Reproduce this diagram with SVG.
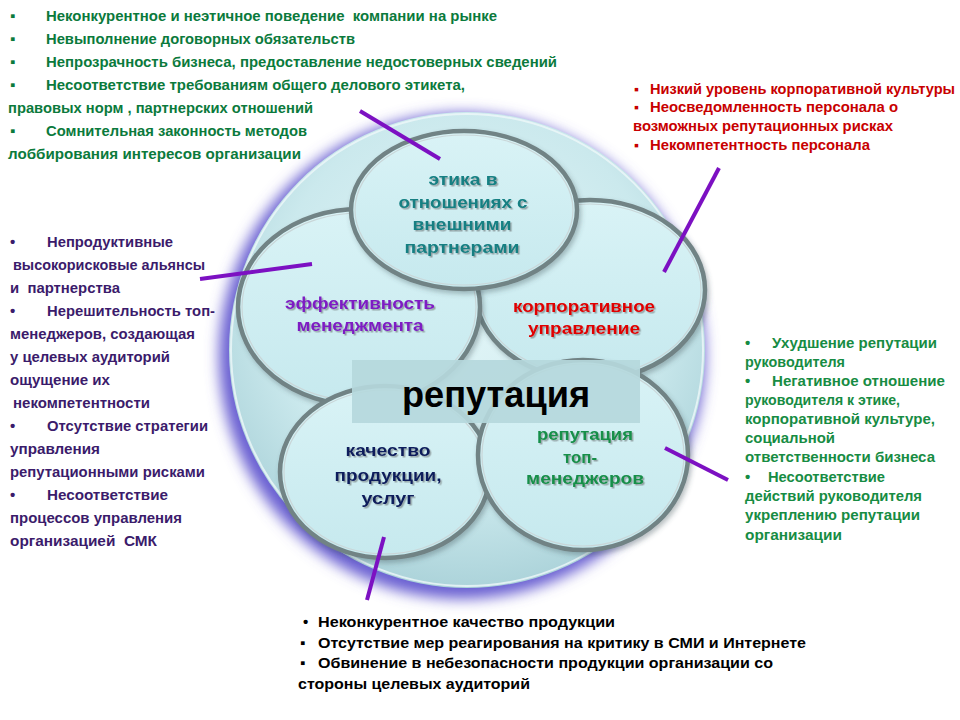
<svg xmlns="http://www.w3.org/2000/svg" width="960" height="720" viewBox="0 0 960 720">
<defs>
  <radialGradient id="bigFill" cx="0.5" cy="0.4" r="0.62">
    <stop offset="0" stop-color="#e3f6f8"/>
    <stop offset="0.65" stop-color="#cbe9ed"/>
    <stop offset="1" stop-color="#a9d1d8"/>
  </radialGradient>
  <linearGradient id="ellFill" x1="0" y1="0" x2="0" y2="1">
    <stop offset="0" stop-color="#d9f3f6"/>
    <stop offset="1" stop-color="#c6e9ee"/>
  </linearGradient>
  <filter id="halo" x="-20%" y="-20%" width="140%" height="140%">
    <feGaussianBlur stdDeviation="7"/>
  </filter>
  <filter id="shadow" x="-10%" y="-10%" width="125%" height="130%">
    <feDropShadow dx="2" dy="3" stdDeviation="2.5" flood-color="#3a5055" flood-opacity="0.35"/>
  </filter>
  <filter id="txtShadow" x="-5%" y="-20%" width="110%" height="150%">
    <feDropShadow dx="1.5" dy="1.5" stdDeviation="0.7" flood-color="#4a4a4a" flood-opacity="0.45"/>
  </filter>
  <style>
    .t { font-family: "Liberation Sans", Arial, sans-serif; font-weight: bold; font-size: 15px; }
    .g1 { fill: #0b7a3c; }
    .g2 { fill: #178c43; }
    .rd { fill: #c80000; font-size: 14px; }
    .pu { fill: #3b1b6b; }
    .bk { fill: #000000; }
    .lbl { font-family: "Liberation Sans", Arial, sans-serif; font-weight: bold; font-size: 17px; text-anchor: middle; filter: url(#txtShadow); }
    .ell { fill: url(#ellFill); stroke: #718385; stroke-width: 4.5; filter: url(#shadow); }
    .ellIn { fill: none; stroke: #c9d6d8; stroke-width: 1.2; }
    .con { stroke: #7c10c2; stroke-width: 4; stroke-linecap: butt; fill: none; }
    .pre { white-space: pre; }
  </style>
</defs>

<rect width="960" height="720" fill="#ffffff"/>

<!-- outer reputation circle -->
<g id="outer-circle">
  <circle cx="462" cy="356" r="243" fill="#6a60d2" filter="url(#halo)"/>
  <circle cx="467" cy="350" r="238" fill="url(#bigFill)"/>
  <circle cx="467" cy="350" r="236" fill="none" stroke="#eef8f9" stroke-width="2" opacity="0.8"/>
</g>

<g id="node-corp">
  <ellipse class="ell" cx="590" cy="290" rx="115" ry="90"/>
  <ellipse class="ellIn" cx="590" cy="290" rx="111" ry="86"/>
  <text class="lbl" fill="#e00000"><tspan x="584" y="312" textLength="142" lengthAdjust="spacingAndGlyphs">корпоративное</tspan><tspan x="584" y="334" textLength="112" lengthAdjust="spacingAndGlyphs">управление</tspan></text>
</g>

<g id="node-mgmt">
  <ellipse class="ell" cx="359" cy="307" rx="121" ry="98"/>
  <ellipse class="ellIn" cx="359" cy="307" rx="117" ry="94"/>
  <text class="lbl" fill="#7e1dc3"><tspan x="360" y="309" textLength="150" lengthAdjust="spacingAndGlyphs">эффективность</tspan><tspan x="360" y="331" textLength="127" lengthAdjust="spacingAndGlyphs">менеджмента</tspan></text>
</g>

<g id="node-ethics">
  <ellipse class="ell" cx="464" cy="210" rx="113" ry="79"/>
  <ellipse class="ellIn" cx="464" cy="210" rx="109" ry="75"/>
  <text class="lbl" fill="#137f82"><tspan x="463" y="185" textLength="69" lengthAdjust="spacingAndGlyphs">этика в</tspan><tspan x="463" y="208" textLength="129" lengthAdjust="spacingAndGlyphs">отношениях с</tspan><tspan x="462" y="230" textLength="99" lengthAdjust="spacingAndGlyphs">внешними</tspan><tspan x="462" y="253" textLength="115" lengthAdjust="spacingAndGlyphs">партнерами</tspan></text>
</g>

<g id="node-quality">
  <ellipse class="ell" cx="385" cy="472" rx="105" ry="86"/>
  <ellipse class="ellIn" cx="385" cy="472" rx="101" ry="82"/>
  <text class="lbl" fill="#0c1f5c"><tspan x="388" y="456" textLength="85" lengthAdjust="spacingAndGlyphs">качество</tspan><tspan x="388" y="481" textLength="107" lengthAdjust="spacingAndGlyphs">продукции,</tspan><tspan x="388" y="504" textLength="53" lengthAdjust="spacingAndGlyphs">услуг</tspan></text>
</g>

<g id="node-topmgr">
  <ellipse class="ell" cx="583" cy="455" rx="105" ry="95"/>
  <ellipse class="ellIn" cx="583" cy="455" rx="101" ry="91"/>
  <text class="lbl" fill="#178f4a"><tspan x="585" y="440" textLength="96" lengthAdjust="spacingAndGlyphs">репутация</tspan><tspan x="580" y="463" textLength="34" lengthAdjust="spacingAndGlyphs">топ-</tspan><tspan x="585" y="484" textLength="118" lengthAdjust="spacingAndGlyphs">менеджеров</tspan></text>
</g>

<g id="node-reputation">
  <rect x="352" y="360" width="288" height="63" fill="#b5d8dc" opacity="0.92"/>
  <text x="496" y="407" font-family="Liberation Sans, Arial, sans-serif" font-weight="bold" font-size="36" text-anchor="middle" fill="#000000" textLength="188" lengthAdjust="spacingAndGlyphs">репутация</text>
</g>

<g id="connectors">
  <line class="con" x1="360" y1="111" x2="440" y2="159"/>
  <line class="con" x1="200" y1="279" x2="312" y2="264"/>
  <line class="con" x1="719" y1="168" x2="664" y2="272"/>
  <line class="con" x1="665" y1="448" x2="728" y2="480"/>
  <line class="con" x1="384" y1="537" x2="367" y2="600"/>
</g>

<g id="text-ethics-risks" class="t g1">
  <text x="10" y="21">▪</text>
  <text x="46" y="21" class="pre" textLength="451" lengthAdjust="spacingAndGlyphs">Неконкурентное и неэтичное поведение  компании на рынке</text>
  <text x="10" y="44">▪</text>
  <text x="46" y="44" textLength="309" lengthAdjust="spacingAndGlyphs">Невыполнение договорных обязательств</text>
  <text x="10" y="67">▪</text>
  <text x="46" y="67" textLength="511" lengthAdjust="spacingAndGlyphs">Непрозрачность бизнеса, предоставление недостоверных сведений</text>
  <text x="10" y="90">▪</text>
  <text x="46" y="90" textLength="419" lengthAdjust="spacingAndGlyphs">Несоответствие требованиям общего делового этикета,</text>
  <text x="8" y="113" textLength="305" lengthAdjust="spacingAndGlyphs">правовых норм , партнерских отношений</text>
  <text x="10" y="136">▪</text>
  <text x="46" y="136" textLength="261" lengthAdjust="spacingAndGlyphs">Сомнительная законность методов</text>
  <text x="8" y="159" textLength="293" lengthAdjust="spacingAndGlyphs">лоббирования интересов организации</text>
</g>

<g id="text-corp-risks" class="t rd">
  <text x="634" y="94">▪</text>
  <text x="650" y="94" textLength="305" lengthAdjust="spacingAndGlyphs">Низкий уровень корпоративной культуры</text>
  <text x="634" y="112">▪</text>
  <text x="650" y="112" textLength="248" lengthAdjust="spacingAndGlyphs">Неосведомленность персонала о</text>
  <text x="633" y="131" textLength="260" lengthAdjust="spacingAndGlyphs">возможных репутационных рисках</text>
  <text x="634" y="150">▪</text>
  <text x="650" y="150" textLength="220" lengthAdjust="spacingAndGlyphs">Некомпетентность персонала</text>
</g>

<g id="text-mgmt-risks" class="t pu">
  <text x="10" y="247">•</text>
  <text x="47" y="247" textLength="126" lengthAdjust="spacingAndGlyphs">Непродуктивные</text>
  <text x="13" y="270" textLength="192" lengthAdjust="spacingAndGlyphs">высокорисковые альянсы</text>
  <text x="10" y="293" class="pre" textLength="110" lengthAdjust="spacingAndGlyphs">и  партнерства</text>
  <text x="10" y="316">•</text>
  <text x="47" y="316" textLength="168" lengthAdjust="spacingAndGlyphs">Нерешительность топ-</text>
  <text x="10" y="339" textLength="185" lengthAdjust="spacingAndGlyphs">менеджеров, создающая</text>
  <text x="10" y="362" textLength="160" lengthAdjust="spacingAndGlyphs">у целевых аудиторий</text>
  <text x="10" y="385" textLength="100" lengthAdjust="spacingAndGlyphs">ощущение их</text>
  <text x="13" y="408" textLength="137" lengthAdjust="spacingAndGlyphs">некомпетентности</text>
  <text x="10" y="431">•</text>
  <text x="47" y="431" textLength="161" lengthAdjust="spacingAndGlyphs">Отсутствие стратегии</text>
  <text x="10" y="454" textLength="90" lengthAdjust="spacingAndGlyphs">управления</text>
  <text x="10" y="477" textLength="195" lengthAdjust="spacingAndGlyphs">репутационными рисками</text>
  <text x="10" y="500">•</text>
  <text x="47" y="500" textLength="121" lengthAdjust="spacingAndGlyphs">Несоответствие</text>
  <text x="10" y="523" textLength="172" lengthAdjust="spacingAndGlyphs">процессов управления</text>
  <text x="10" y="546" class="pre" textLength="147" lengthAdjust="spacingAndGlyphs">организацией  СМК</text>
</g>

<g id="text-topmgr-risks" class="t g2">
  <text x="745" y="348">•</text>
  <text x="772" y="348" textLength="165" lengthAdjust="spacingAndGlyphs">Ухудшение репутации</text>
  <text x="745" y="367" textLength="100" lengthAdjust="spacingAndGlyphs">руководителя</text>
  <text x="745" y="386">•</text>
  <text x="772" y="386" textLength="173" lengthAdjust="spacingAndGlyphs">Негативное отношение</text>
  <text x="745" y="405" textLength="155" lengthAdjust="spacingAndGlyphs">руководителя к этике,</text>
  <text x="745" y="424" textLength="190" lengthAdjust="spacingAndGlyphs">корпоративной культуре,</text>
  <text x="745" y="443" textLength="90" lengthAdjust="spacingAndGlyphs">социальной</text>
  <text x="745" y="462" textLength="190" lengthAdjust="spacingAndGlyphs">ответственности бизнеса</text>
  <text x="745" y="482">•</text>
  <text x="768" y="482" textLength="117" lengthAdjust="spacingAndGlyphs">Несоответствие</text>
  <text x="745" y="501" textLength="177" lengthAdjust="spacingAndGlyphs">действий руководителя</text>
  <text x="745" y="520" textLength="175" lengthAdjust="spacingAndGlyphs">укреплению репутации</text>
  <text x="745" y="540" textLength="97" lengthAdjust="spacingAndGlyphs">организации</text>
</g>

<g id="text-quality-risks" class="t bk">
  <text x="303" y="627">•</text>
  <text x="318" y="627" textLength="297" lengthAdjust="spacingAndGlyphs">Неконкурентное качество продукции</text>
  <text x="300" y="648">▪</text>
  <text x="318" y="648" textLength="488" lengthAdjust="spacingAndGlyphs">Отсутствие мер реагирования на критику в СМИ и Интернете</text>
  <text x="300" y="668">▪</text>
  <text x="318" y="668" textLength="455" lengthAdjust="spacingAndGlyphs">Обвинение в небезопасности продукции организации со</text>
  <text x="298" y="689" textLength="232" lengthAdjust="spacingAndGlyphs">стороны целевых аудиторий</text>
</g>
</svg>
